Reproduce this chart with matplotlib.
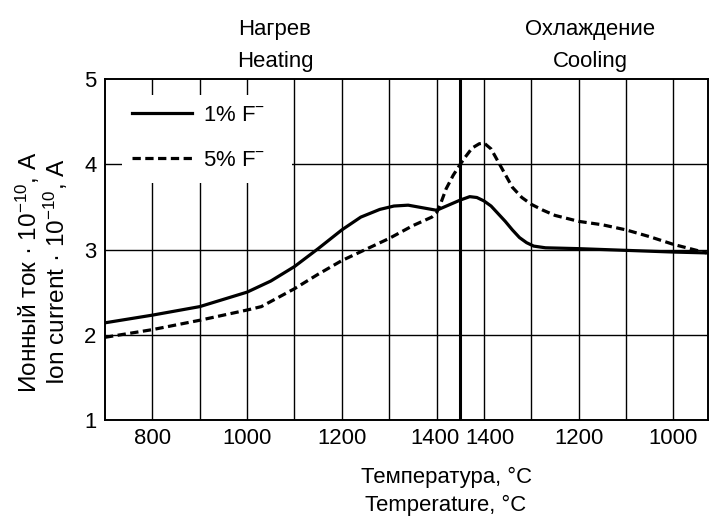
import numpy as np
import matplotlib
matplotlib.use("Agg")
import matplotlib.pyplot as plt
from matplotlib import font_manager as fm
from matplotlib.patches import Rectangle
from matplotlib.transforms import ScaledTranslation

# ---------------- data ----------------
# heating branch (temperature rising)
heat_T = [700, 800, 900, 1000, 1050, 1100, 1150, 1200, 1240, 1280, 1310, 1340, 1370, 1400, 1425, 1450]
heat_1pct = [2.14, 2.23, 2.33, 2.50, 2.63, 2.80, 3.01, 3.23, 3.38, 3.47, 3.51, 3.52, 3.49, 3.46, 3.52, 3.58]
heat_T5 = [700, 800, 900, 1000, 1030, 1060, 1100, 1150, 1200, 1250, 1300, 1350, 1390, 1400, 1410, 1420, 1435, 1450]
heat_5pct = [1.97, 2.06, 2.17, 2.29, 2.33, 2.42, 2.54, 2.71, 2.87, 3.00, 3.13, 3.28, 3.38, 3.43, 3.56, 3.71, 3.87, 4.00]
# cooling branch (temperature falling)
cool_T = [1430, 1415, 1400, 1385, 1375, 1365, 1355, 1340, 1325, 1310, 1295, 1270, 1200, 1100, 1000, 930]
cool_1pct = [3.62, 3.61, 3.57, 3.51, 3.45, 3.39, 3.33, 3.23, 3.14, 3.08, 3.04, 3.02, 3.01, 2.99, 2.97, 2.96]
cool_T5 = [1440, 1425, 1410, 1400, 1385, 1370, 1355, 1340, 1320, 1300, 1275, 1250, 1200, 1150, 1100, 1050, 1000, 930]
cool_5pct = [4.08, 4.19, 4.24, 4.25, 4.18, 4.03, 3.88, 3.73, 3.61, 3.53, 3.46, 3.40, 3.33, 3.29, 3.23, 3.15, 3.06, 2.96]

heat_ticks = [800, 1000, 1200, 1400]
cool_ticks = [1400, 1200, 1000]
heat_grid = [800, 900, 1000, 1100, 1200, 1300, 1400]
cool_grid = [1400, 1300, 1200, 1100, 1000]
T_turn = 1450
y_ticks = [1, 2, 3, 4, 5]
labels = ["1% F$^{-}$", "5% F$^{-}$"]

# ---------------- fonts ----------------
names = {f.name for f in fm.fontManager.ttflist}
if "Liberation Sans Narrow" in names:
    fam, sc = "Liberation Sans Narrow", 1.0
else:
    fam, sc = "Liberation Sans", 0.84
plt.rcParams["font.family"] = [fam, "DejaVu Sans"]
plt.rcParams["mathtext.fontset"] = "custom"
plt.rcParams["mathtext.rm"] = fam
plt.rcParams["mathtext.it"] = fam
plt.rcParams["mathtext.default"] = "regular"
FS = 19 * sc

def u(T, cooling):
    T = np.asarray(T, dtype=float)
    return 2 * T_turn - T if cooling else T

W, H = 710, 517
fig = plt.figure(figsize=(W / 100, H / 100), dpi=100)
L, R, B, Tp = 105, 708, 420, 79
ax = fig.add_axes([L / W, 1 - B / H, (R - L) / W, (B - Tp) / H])

x1 = np.concatenate([u(heat_T, False), u(cool_T, True)])
y1 = np.concatenate([heat_1pct, cool_1pct])
x5 = np.concatenate([u(heat_T5, False), u(cool_T5, True)])
y5 = np.concatenate([heat_5pct, cool_5pct])

ax.plot(x1, y1, color="black", lw=2.3, solid_joinstyle="round", label=labels[0], zorder=3)
ax.plot(x5, y5, color="black", lw=2.3, dashes=(2.6, 1.4), label=labels[1], zorder=3)

ax.set_xlim(700, 1973)
ax.set_ylim(1, 5)

grid_pos = list(u(heat_grid, False)) + list(u(cool_grid, True))
for g in grid_pos:
    ax.axvline(g, color="black", lw=1.0, zorder=0.5)
for yv in y_ticks[1:-1]:
    ax.axhline(yv, color="black", lw=1.0, zorder=0.5)
ax.axvline(T_turn, color="black", lw=2.2, zorder=0.6)

tick_pos = list(u(heat_ticks, False)) + list(u(cool_ticks, True))
tick_lab = [str(t) for t in heat_ticks] + [str(t) for t in cool_ticks]
ax.set_xticks(tick_pos)
ax.set_xticklabels(tick_lab, fontsize=FS)
ax.set_yticks(y_ticks)
ax.set_yticklabels([str(v) for v in y_ticks], fontsize=FS)
ax.tick_params(length=0, pad=6)
# nudge the two adjacent "1400" labels apart
xl = ax.get_xticklabels()
xl[3].set_transform(xl[3].get_transform() + ScaledTranslation(-2 / 100, 0, fig.dpi_scale_trans))
xl[4].set_transform(xl[4].get_transform() + ScaledTranslation(6 / 100, 0, fig.dpi_scale_trans))
for s in ax.spines.values():
    s.set_linewidth(1.4)

# white legend background
ax.add_patch(Rectangle((0.028, 0.695), 0.282, 0.258, transform=ax.transAxes,
                       facecolor="white", edgecolor="none", zorder=1))
leg = ax.legend(loc="upper left", bbox_to_anchor=(0.045, 0.925), frameon=False,
                fontsize=FS, handlelength=2.7, handletextpad=0.5, labelspacing=1.1,
                borderpad=0, borderaxespad=0)

def ftxt(x, y, s, fs=FS, **kw):
    fig.text(x / W, 1 - y / H, s, fontsize=fs, **kw)

ftxt(275, 35, "Нагрев", ha="center", va="baseline")
ftxt(275, 67, "Heating", ha="center", va="baseline")
ftxt(590, 35, "Охлаждение", ha="center", va="baseline")
ftxt(590, 67, "Cooling", ha="center", va="baseline")
ftxt(446, 483, "Температура, °C", ha="center", va="baseline")
ftxt(446, 511, "Temperature, °C", ha="center", va="baseline")
ftxt(28, 272, "Ионный ток · 10$^{-10}$, A", fs=FS * 1.1, ha="center", va="center", rotation=90)
ftxt(56, 272, "Ion current · 10$^{-10}$, A", fs=FS * 1.1, ha="center", va="center", rotation=90)

fig.savefig("out.png", dpi=100)
